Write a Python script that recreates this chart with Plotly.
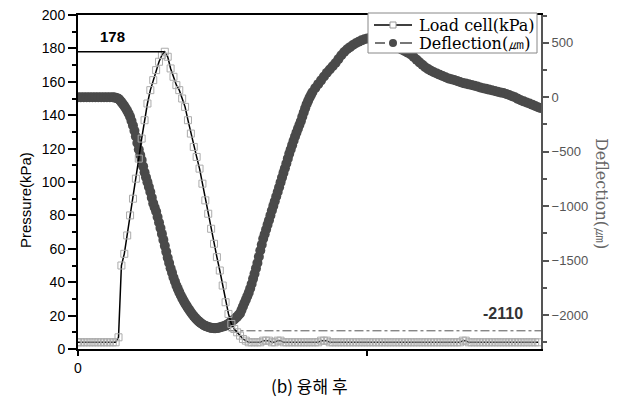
import plotly.graph_objects as go

# ---- data ----
sample_time = list(range(161))  # load-cell sample index (x axis)

load_cell_kpa = [
    4, 4, 4, 4, 4, 4, 4, 4, 4, 4, 4, 4, 4,
    4, 7, 50, 57, 68, 80, 90, 102, 114, 126, 137, 147, 155, 161, 167, 172, 176, 178,
    175, 168, 163, 158, 155, 150, 145, 137, 129, 121, 115, 108, 99, 89, 81, 72, 63, 55,
    47, 38, 28, 21, 15, 12, 10, 8, 6, 5,
    4, 4, 4, 4, 4, 5, 5, 5, 4, 4, 5, 5, 4, 4, 4, 4, 4, 4, 4, 4, 4, 4, 4, 4, 4, 5, 5, 5,
    4, 4, 4, 4, 4, 4, 4, 4, 4, 4, 4, 4, 4, 4, 4, 4, 4, 4, 4, 4, 4, 4, 4, 4, 4, 4, 4, 4,
    4, 4, 4, 4, 4, 4, 4, 4, 4, 4, 4, 4, 4, 4, 4, 4, 4, 4, 5, 5, 4, 4, 4, 4, 4, 4, 4, 4,
    4, 4, 4, 4, 4, 4, 4, 4, 4, 4, 4, 4, 4, 4, 4, 4, 4,
]

deflection_time = [
    0, 1, 2, 3, 4, 5, 6, 7, 8, 9, 10, 11, 12,
    12.5, 13, 13.5, 14, 14.5, 15, 15.5, 16, 16.5, 17, 17.5, 18, 18.5, 19, 19.5, 20,
    20.5, 21, 21.5, 22, 22.5, 23, 23.5, 24, 24.5, 25, 25.5, 26, 26.5, 27, 27.5, 28,
    28.5, 29, 29.5, 30, 30.5, 31, 31.5, 32, 32.5, 33, 33.5, 34, 34.5, 35, 35.5, 36,
    36.5, 37, 37.5, 38, 38.5, 39, 39.5, 40, 40.5, 41, 41.5, 42, 42.5, 43, 43.5, 44,
    44.5, 45, 45.5, 46, 46.5, 47, 47.5, 48, 48.5, 49, 49.5, 50, 50.5, 51, 51.5, 52,
    52.5, 53, 53.5, 54, 54.5, 55, 55.5, 56, 56.5, 57, 57.5, 58, 58.5, 59, 59.5, 60,
    60.5, 61, 61.5, 62, 62.5, 63, 63.5, 64, 64.5, 65, 65.5, 66, 66.5, 67, 67.5, 68,
    68.5, 69, 69.5, 70, 70.5, 71, 71.5, 72, 72.5, 73, 73.5, 74, 74.5, 75, 75.5, 76,
    76.5, 77, 77.5, 78, 78.5, 79, 79.5, 80, 80.5,
    81, 82, 83, 84, 85, 86, 87, 88, 89, 90, 91, 92, 93, 94, 95, 96, 97, 98, 99, 100,
    101, 102, 103, 104, 105, 106, 107, 108, 109, 110, 111, 112, 113, 114, 115, 116,
    117, 118, 119, 120, 121, 122, 123, 124, 125, 126, 127, 128, 129, 130, 131, 132,
    133, 134, 135, 136, 137, 138, 139, 140, 141, 142, 143, 144, 145, 146, 147, 148,
    149, 150, 151, 152, 153, 154, 155, 156, 157, 158, 159, 160,
]

deflection_um = [
    0, 0, 0, 0, 0, 0, 0, 0, 0, 0, 0, 0, 0,
    -2, -5, -9, -15, -28, -45, -62, -80, -102, -125, -150, -180, -218, -260, -308, -360,
    -420, -480, -530, -577, -635, -690, -735, -780, -825, -870, -922, -975, -1012, -1050,
    -1100, -1150, -1202, -1255, -1310, -1365, -1420, -1475, -1522, -1570, -1612, -1655,
    -1692, -1730, -1760, -1790, -1818, -1845, -1870, -1893, -1914, -1935, -1955, -1975,
    -1993, -2010, -2025, -2040, -2053, -2065, -2075, -2085, -2093, -2100, -2105, -2110,
    -2114, -2118, -2120, -2122, -2121, -2120, -2117, -2114, -2110, -2106, -2102, -2097,
    -2089, -2080, -2070, -2060, -2050, -2040, -2028, -2015, -2000, -1985, -1955, -1922,
    -1890, -1859, -1828, -1796, -1756, -1715, -1668, -1622, -1572, -1522, -1465, -1408,
    -1354, -1300, -1258, -1215, -1172, -1130, -1085, -1040, -998, -955, -912, -870,
    -826, -782, -738, -695, -652, -608, -564, -520, -480, -440, -400, -360, -325, -290,
    -255, -220, -180, -140, -102, -65, -35, -5, 20,
    45, 85, 120, 155, 190, 225, 255, 285, 315, 350, 385, 415, 440, 460, 480, 495, 510,
    522, 532, 540, 545, 547, 546, 540, 530, 518, 505, 492, 480, 465, 450, 437, 423, 408,
    393, 370, 345, 320, 298, 275, 258, 243, 230, 218, 207, 195, 183, 173, 165, 158, 150,
    140, 131, 125, 118, 112, 105, 98, 90, 83, 77, 70, 64, 57, 50, 44, 38, 30, 20, 10, 0,
    -15, -28, -38, -48, -58, -68, -80, -92, -100,
]

series_names = ["Load cell(kPa)", "Deflection(㎛)"]

peak_pressure = 178
peak_time = 30
min_deflection_label = -2110
min_deflection_line = -2145
min_line_start = 52

pressure_ticks = [0, 20, 40, 60, 80, 100, 120, 140, 160, 180, 200]
deflection_ticks = [-2000, -1500, -1000, -500, 0, 500]
x_tick_vals = [0, 100]
x_tick_text = ["0", ""]

GRAY = "#4a4a4a"
AXGRAY = "#555555"

# plot-area geometry in pixels (used for the hand-drawn legend box)
PLOT_W, PLOT_H = 463, 334


def px(dx):
    return dx / PLOT_W


def py(dy):
    return dy / PLOT_H


fig = go.Figure()

# deflection on primary y (right side, drawn beneath)
fig.add_trace(go.Scatter(
    x=deflection_time, y=deflection_um, name=series_names[1], yaxis="y",
    mode="markers", showlegend=False,
    marker=dict(symbol="circle", size=10, color=GRAY),
))
fig.add_trace(go.Scatter(
    x=[min_line_start, sample_time[-1]], y=[min_deflection_line, min_deflection_line],
    yaxis="y", mode="lines", showlegend=False,
    line=dict(color=AXGRAY, width=1, dash="dashdot"), hoverinfo="skip",
))

# pressure on overlaying y2 (left side, drawn on top)
fig.add_trace(go.Scatter(
    x=sample_time, y=load_cell_kpa, name=series_names[0], yaxis="y2",
    mode="lines+markers", showlegend=False,
    line=dict(color="black", width=1.5),
    marker=dict(symbol="square-open", size=7, color="#ababab", line=dict(width=1)),
))
fig.add_trace(go.Scatter(
    x=[0, peak_time], y=[peak_pressure, peak_pressure], yaxis="y2",
    mode="lines", showlegend=False, line=dict(color="black", width=1.5),
    hoverinfo="skip",
))

# ---- legend drawn by hand (box, symbols, labels) ----
lx0, lx1 = px(290), px(459)          # box left/right from plot left edge
ly0, ly1 = 1 - py(40 - 2), 1 + py(2)  # box bottom/top
row1, row2 = 1 - py(10), 1 - py(28)
sym_c = px(315)
shapes = [
    dict(type="rect", xref="paper", yref="paper", x0=lx0, x1=lx1, y0=ly0, y1=ly1,
         line=dict(color="#888888", width=1), fillcolor="white", layer="above"),
    # row 1: solid line + open square
    dict(type="line", xref="paper", yref="paper", x0=px(296), x1=px(334), y0=row1, y1=row1,
         line=dict(color="black", width=1.5), layer="above"),
    dict(type="rect", xref="paper", yref="paper", x0=sym_c - px(3), x1=sym_c + px(3),
         y0=row1 - py(3), y1=row1 + py(3), line=dict(color="#999999", width=1),
         fillcolor="white", layer="above"),
    # row 2: dashes + filled circle
    dict(type="line", xref="paper", yref="paper", x0=px(297), x1=px(307), y0=row2, y1=row2,
         line=dict(color=GRAY, width=1.5), layer="above"),
    dict(type="line", xref="paper", yref="paper", x0=px(322), x1=px(334), y0=row2, y1=row2,
         line=dict(color=GRAY, width=1.5), layer="above"),
    dict(type="circle", xref="paper", yref="paper", x0=sym_c - px(4), x1=sym_c + px(4),
         y0=row2 - py(4), y1=row2 + py(4), line=dict(color=GRAY, width=0),
         fillcolor=GRAY, layer="above"),
]

legend_font = dict(family="DejaVu Serif", size=16, color="black")

fig.update_layout(
    width=614, height=404,
    margin=dict(l=70, r=81, t=7, b=63),
    paper_bgcolor="white", plot_bgcolor="white",
    showlegend=False,
    shapes=shapes,
    xaxis=dict(
        range=[0, 160], tickvals=x_tick_vals, ticktext=x_tick_text,
        showline=True, linecolor="black", linewidth=2, mirror=True,
        ticks="outside", ticklen=5, tickcolor="black", tickwidth=1.5,
        showgrid=False, zeroline=False, automargin=False,
        tickfont=dict(family="Liberation Sans", size=14, color="black"),
    ),
    yaxis=dict(
        side="right", range=[-2312, 755], tickvals=deflection_ticks,
        showline=True, linecolor=AXGRAY, linewidth=2,
        ticks="outside", ticklen=6, tickcolor=AXGRAY, tickwidth=1.5,
        minor=dict(ticks="outside", ticklen=4, dtick=250, tickcolor=AXGRAY, tickwidth=1.5),
        showgrid=False, zeroline=False, ticklabeloverflow="allow", automargin=False,
        tickfont=dict(family="Liberation Sans", size=13, color=AXGRAY),
    ),
    yaxis2=dict(
        side="left", overlaying="y", range=[0, 200], tickvals=pressure_ticks,
        showline=True, linecolor="black", linewidth=2,
        ticks="outside", ticklen=8, tickcolor="black", tickwidth=1.5,
        minor=dict(ticks="outside", ticklen=4, dtick=10, tickcolor="black", tickwidth=1.5),
        showgrid=False, zeroline=False, ticklabeloverflow="allow", automargin=False,
        tickfont=dict(family="Liberation Sans", size=14, color="black"),
    ),
    annotations=[
        dict(text=series_names[0], x=px(339), y=row1, xref="paper", yref="paper",
             xanchor="left", yanchor="middle", showarrow=False, font=legend_font),
        dict(text=series_names[1], x=px(339), y=row2, xref="paper", yref="paper",
             xanchor="left", yanchor="middle", showarrow=False, font=legend_font),
        dict(text="<b>%d</b>" % peak_pressure, x=12, y=187, xref="x", yref="y2",
             xanchor="center", yanchor="middle", showarrow=False,
             font=dict(family="Liberation Sans", size=15, color="black")),
        dict(text="<b>%d</b>" % min_deflection_label, x=147, y=-1990, xref="x", yref="y",
             xanchor="center", yanchor="middle", showarrow=False,
             font=dict(family="Liberation Sans", size=16, color="#333333")),
        dict(text="Pressure(kPa)", x=-0.1145, y=0.446, xref="paper", yref="paper",
             xanchor="center", yanchor="middle", textangle=-90, showarrow=False,
             font=dict(family="Liberation Sans", size=15, color="black")),
        dict(text=series_names[1], x=1.132, y=0.467, xref="paper", yref="paper",
             xanchor="center", yanchor="middle", textangle=90, showarrow=False,
             font=dict(family="DejaVu Serif", size=16, color="#666666")),
        dict(text="(b) 융해 후", x=0.501, y=-0.108, xref="paper", yref="paper",
             showarrow=False, xanchor="center", yanchor="middle",
             font=dict(family="Noto Sans CJK KR", size=17, color="black")),
    ],
)

fig.write_html("out.html")
